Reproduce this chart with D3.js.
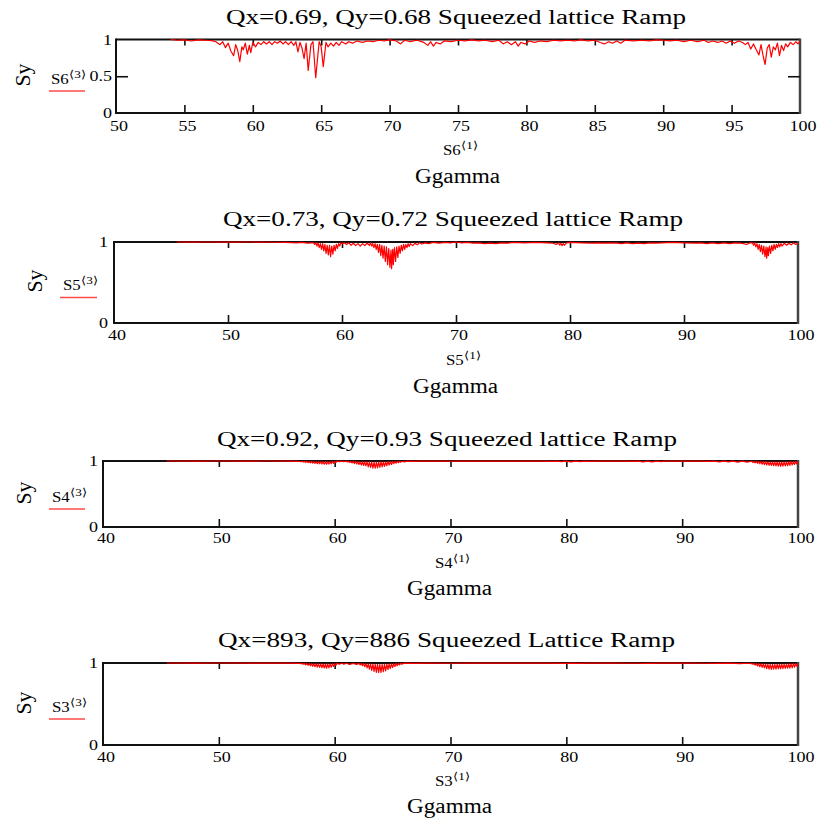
<!DOCTYPE html>
<html>
<head>
<meta charset="utf-8">
<script src="https://cdn.jsdelivr.net/npm/d3@7"></script>
<style>
  html, body { margin: 0; padding: 0; background: #fff; }
  svg { display: block; }
</style>
</head>
<body>
<div id="chart"></div>
<script>
// ---------------- DATA ----------------
const panelTitles = [
  "Qx=0.69, Qy=0.68 Squeezed lattice Ramp",
  "Qx=0.73, Qy=0.72 Squeezed lattice Ramp",
  "Qx=0.92, Qy=0.93 Squeezed lattice Ramp",
  "Qx=893, Qy=886 Squeezed Lattice Ramp"
];
const seriesNames = ["S6", "S5", "S4", "S3"];
const yAxisLabel = "Sy";
const xAxisLabel = "Ggamma";

const xTicks1 = [50, 55, 60, 65, 70, 75, 80, 85, 90, 95, 100];
const xTicks2 = [40, 50, 60, 70, 80, 90, 100];
const yTicks1 = [0, 0.5, 1];
const yTicks2 = [0, 1];
const yTickLabels1 = ["0", "0.5", "1"];
const yTickLabels2 = ["0", "1"];

// S6 : Ggamma, Sy
const s6 = [
[54,1],[54.5,.99],[55,.995],[55.5,.98],[56,.995],[56.5,.99],[57,.985],[57.3,.97],[57.6,.93],[57.8,.97],
[58,.89],[58.2,.95],[58.4,.84],[58.6,.78],[58.75,.93],[58.9,.85],[59.05,.70],[59.2,.90],[59.3,.86],[59.45,.95],
[59.6,.80],[59.75,.92],[59.85,.82],[60,.96],[60.2,.90],[60.4,.96],[60.6,.93],[60.8,.97],[61,.94],[61.2,.97],
[61.4,.93],[61.6,.97],[61.8,.95],[62,.98],[62.2,.94],[62.4,.97],[62.6,.93],[62.8,.97],[63,.92],[63.15,.97],
[63.3,.83],[63.45,.96],[63.6,.88],[63.75,.74],[63.9,.95],[64.05,.58],[64.25,.93],[64.4,.97],[64.6,.48],[64.85,.97],
[65,.90],[65.15,.63],[65.35,.96],[65.5,.90],[65.7,.95],[65.9,.91],[66.1,.96],[66.3,.92],[66.5,.97],[66.8,.94],
[67,.97],[67.3,.95],[67.6,.98],[68,.96],[68.4,.98],[68.8,.97],[69.2,.99],[69.6,.98],[70,.995],[70.5,.98],
[70.8,.94],[71.1,.99],[71.5,.97],[72,.99],[72.5,.96],[72.8,.92],[73,.97],[73.2,.91],[73.4,.96],[73.7,.94],
[74,.98],[74.5,.97],[75,.99],[75.5,.98],[76,.995],[76.5,.98],[77,.99],[77.5,.97],[78,.99],[78.3,.94],
[78.6,.97],[78.9,.93],[79.2,.97],[79.4,.91],[79.6,.96],[79.9,.94],[80.2,.98],[80.6,.96],[81,.98],[81.5,.97],
[82,.99],[82.5,.98],[83,.99],[83.5,.98],[84,.995],[84.5,.98],[85,.99],[85.4,.96],[85.7,.94],[86,.97],
[86.3,.95],[86.6,.98],[86.9,.95],[87.2,.99],[87.8,.98],[88.5,.99],[89,.98],[89.5,.995],[90,.99],[90.5,.98],
[91,.99],[91.5,.97],[92,.99],[92.5,.97],[93,.99],[93.3,.96],[93.6,.98],[94,.96],[94.3,.98],[94.6,.95],
[94.9,.98],[95.2,.95],[95.5,.98],[95.8,.96],[96,.93],[96.2,.96],[96.4,.87],[96.6,.94],[96.8,.86],[97,.79],
[97.15,.93],[97.3,.78],[97.45,.66],[97.6,.88],[97.75,.93],[97.9,.76],[98.05,.90],[98.2,.86],[98.35,.95],[98.5,.78],
[98.65,.92],[98.8,.85],[98.95,.94],[99.1,.90],[99.3,.96],[99.5,.93],[99.7,.97],[99.85,.94],[100,.98]
];

// S5 : Ggamma, Sy
const s5 = [
[45.5,1],[47,.998],[48,1],[50,.998],[52,1],[54,.997],[55,.995],[56,.99],[56.5,.995],[57,.985],[57.3,.99],
[57.5,.99],[57.6,.97],[57.7,.99],[57.8,.95],[57.9,.99],[58,.93],[58.1,.98],[58.2,.91],[58.3,.98],[58.4,.89],
[58.5,.97],[58.6,.86],[58.7,.96],[58.8,.84],[58.9,.96],[59,.82],[59.1,.95],[59.2,.85],[59.3,.96],[59.4,.89],
[59.5,.97],[59.6,.92],[59.7,.98],[59.8,.95],[59.9,.99],[60,.98],
[60.2,.99],[60.4,.97],[60.6,.99],[60.8,.96],[61,.985],[61.2,.955],[61.4,.98],[61.6,.95],[61.8,.98],[62,.955],
[62.2,.985],[62.4,.96],
[62.5,.99],[62.6,.95],[62.7,.98],[62.8,.93],[62.9,.98],[63,.91],[63.1,.97],[63.2,.87],[63.3,.97],[63.4,.83],
[63.5,.96],[63.6,.80],[63.7,.95],[63.8,.76],[63.9,.94],[64,.72],[64.1,.92],[64.2,.69],[64.3,.90],[64.35,.67],
[64.45,.91],[64.5,.72],[64.6,.93],[64.7,.76],[64.8,.94],[64.9,.81],[65,.95],[65.1,.86],[65.2,.96],[65.3,.89],
[65.4,.97],[65.5,.91],[65.6,.97],[65.7,.93],[65.8,.98],[65.9,.945],[66,.98],[66.2,.955],[66.4,.985],[66.6,.965],
[66.8,.99],[67,.975],[67.3,.99],[67.6,.98],[68,.995],[68.5,.985],[69,.995],[69.5,.99],[70,1],
[70.5,.99],[71,.995],[71.5,.985],[72,.99],[72.5,.98],[73,.985],[73.5,.98],[74,.99],[74.5,.985],[75,.995],
[76,.99],[77,.995],[78,.99],[78.5,.985],[78.8,.97],[79,.99],[79.1,.96],[79.2,.985],[79.3,.955],[79.4,.98],
[79.5,.96],[79.7,.99],[80,.995],[81,.99],[82,.985],[82.5,.99],[83,.985],[84,.99],[84.5,.98],[85,.99],
[85.5,.98],[86,.985],[86.5,.98],[87,.99],[87.5,.985],[88,.99],[89,.995],[90,.99],[91,.985],[91.5,.99],
[92,.98],[92.5,.99],[93,.98],[93.5,.99],[94,.98],[94.5,.99],[95,.985],[95.5,.97],[95.8,.99],
[96,.99],[96.1,.96],[96.2,.99],[96.3,.94],[96.4,.98],[96.5,.91],[96.6,.97],[96.7,.88],[96.8,.96],[96.9,.85],
[97,.95],[97.1,.82],[97.2,.94],[97.25,.80],[97.35,.93],[97.4,.83],[97.5,.95],[97.6,.86],[97.7,.96],[97.8,.89],
[97.9,.97],[98,.91],[98.1,.97],[98.2,.93],[98.3,.98],[98.4,.94],[98.5,.98],[98.6,.95],[98.8,.985],[99,.96],
[99.2,.985],[99.4,.965],[99.6,.99],[99.8,.97],[100,.985]
];

// S4 : Ggamma, Sy
const s4 = [
[45.5,1],[48,.999],[50,1],[52,.999],[54,1],[56,.998],[56.8,.995],
[57,.995],[57.1,.988],[57.2,.996],[57.3,.984],[57.4,.995],[57.5,.98],[57.6,.995],[57.7,.976],[57.8,.994],[57.9,.972],
[58,.993],[58.1,.968],[58.2,.992],[58.3,.964],[58.4,.992],[58.5,.96],[58.6,.991],[58.7,.957],[58.8,.99],[58.9,.954],
[59,.99],[59.1,.951],[59.2,.99],[59.3,.95],[59.4,.99],[59.5,.953],[59.6,.991],[59.7,.958],[59.8,.993],[59.9,.965],
[60,.995],[60.1,.975],[60.2,.997],[60.4,.99],[60.6,.998],[60.8,.99],
[61,.997],[61.1,.985],[61.2,.996],[61.3,.978],[61.4,.995],[61.5,.97],[61.6,.994],[61.7,.962],[61.8,.993],[61.9,.955],
[62,.992],[62.1,.948],[62.2,.99],[62.3,.94],[62.4,.989],[62.5,.932],[62.6,.988],[62.7,.925],[62.8,.987],[62.9,.912],
[63,.985],[63.1,.903],[63.2,.984],[63.3,.893],[63.4,.983],[63.5,.89],[63.6,.984],[63.7,.895],[63.8,.985],[63.9,.902],
[64,.986],[64.1,.91],[64.2,.987],[64.3,.918],[64.4,.988],[64.5,.928],[64.6,.99],[64.7,.938],[64.8,.99],[64.9,.948],
[65,.992],[65.1,.958],[65.2,.993],[65.3,.966],[65.4,.994],[65.5,.974],[65.6,.995],[65.7,.981],[65.8,.996],[66,.988],
[66.3,.998],[66.8,.995],[67.5,.999],[68.5,.997],[69.5,.999],[70,.996],[70.5,.999],[72,.998],[74,.997],[75,.999],
[76,.998],[78,.999],[78.8,.995],[79.2,.999],[79.6,.99],[80,.998],[80.4,.988],[80.8,.998],[81.2,.99],[81.6,.998],
[82,.993],[83,.999],[85,.998],[85.8,.995],[86.2,.999],[86.6,.988],[87,.998],[87.4,.987],[87.8,.998],[88.2,.99],
[88.6,.999],[90,.998],[91.5,.999],[92.4,.994],[92.8,.999],[93.2,.988],[93.6,.998],[94,.986],[94.4,.997],[94.8,.984],
[95.2,.997],[95.6,.982],[96,.996],
[96.1,.978],[96.2,.995],[96.3,.972],[96.4,.994],[96.5,.965],[96.6,.993],[96.7,.958],[96.8,.992],[96.9,.952],[97,.99],
[97.1,.946],[97.2,.989],[97.3,.94],[97.4,.988],[97.5,.936],[97.6,.987],[97.7,.932],[97.8,.986],[97.9,.928],[98,.985],
[98.1,.925],[98.2,.985],[98.3,.922],[98.4,.985],[98.5,.92],[98.6,.985],[98.7,.922],[98.8,.986],[98.9,.925],[99,.987],
[99.1,.928],[99.2,.988],[99.3,.933],[99.4,.99],[99.5,.94],[99.6,.991],[99.7,.948],[99.8,.993],[99.9,.955],[100,.99]
];

// S3 : Ggamma, Sy
const s3 = [
[45.5,1],[48,.999],[50,1],[53,.999],[56,.998],[56.8,.996],
[57,.996],[57.1,.99],[57.2,.996],[57.3,.985],[57.4,.995],[57.5,.978],[57.6,.994],[57.7,.972],[57.8,.993],[57.9,.966],
[58,.992],[58.1,.96],[58.2,.991],[58.3,.955],[58.4,.99],[58.5,.95],[58.6,.99],[58.7,.946],[58.8,.989],[58.9,.942],
[59,.988],[59.1,.939],[59.2,.988],[59.3,.936],[59.4,.988],[59.5,.94],[59.6,.989],[59.7,.948],[59.8,.99],[59.9,.958],
[60,.992],[60.1,.97],[60.2,.995],[60.4,.985],[60.6,.997],[60.8,.986],[61,.997],[61.3,.984],[61.6,.996],[61.9,.983],
[62.1,.995],[62.2,.978],[62.3,.994],[62.4,.968],[62.5,.993],[62.6,.955],[62.7,.992],[62.8,.94],[62.9,.99],[63,.925],
[63.1,.988],[63.2,.91],[63.3,.986],[63.4,.897],[63.5,.984],[63.6,.885],[63.7,.983],[63.8,.882],[63.9,.983],[64,.884],
[64.1,.984],[64.2,.893],[64.3,.985],[64.4,.905],[64.5,.986],[64.6,.918],[64.7,.988],[64.8,.932],[64.9,.99],[65,.945],
[65.1,.991],[65.2,.958],[65.3,.993],[65.4,.968],[65.5,.995],[65.6,.978],[65.7,.996],[65.8,.985],[66,.998],[67,.996],
[68,.999],[70,.997],[72,.999],[74,.998],[76,.999],[78,.998],[80,.996],[80.5,.999],[81,.995],[82,.998],
[84,.999],[86,.997],[87,.995],[88,.998],[90,.999],[92,.997],[93,.995],[94,.998],[95,.993],[95.6,.997],
[96,.992],[96.1,.985],[96.2,.994],[96.3,.975],[96.4,.993],[96.5,.965],[96.6,.992],[96.7,.955],[96.8,.99],[96.9,.947],
[97,.988],[97.1,.94],[97.2,.986],[97.3,.932],[97.4,.985],[97.5,.926],[97.6,.984],[97.7,.922],[97.8,.984],[97.9,.924],
[98,.984],[98.1,.926],[98.2,.985],[98.3,.928],[98.4,.985],[98.5,.93],[98.6,.986],[98.7,.932],[98.8,.986],[98.9,.934],
[99,.987],[99.1,.936],[99.2,.988],[99.3,.938],[99.4,.99],[99.5,.94],[99.6,.992],[99.7,.948],[99.8,.994],[99.9,.96],[100,.99]
];

// ---------------- LAYOUT ----------------
const W = 819, H = 826;
const FONT = "'Liberation Serif','Times New Roman',Times,serif";
const SX = 1.2; // horizontal stretch of the reference's text

const panels = [
  { data: s6, xDomain: [50, 100], xTicks: xTicks1, yTicks: yTicks1, yLabels: yTickLabels1,
    left: 116, right: 800, top: 39.5, bottom: 113, titleY: 24, titleCx: 456, titleW: 460,
    syCy: 75, syX: 30, legX: 51, legY: 84, legLineY: 91, legLine: [49, 85],
    subX: 443, subY: 155, gX: 415, gY: 183, xLabY: 130.7, yLabDx: -4 },
  { data: s5, xDomain: [40, 100], xTicks: xTicks2, yTicks: yTicks2, yLabels: yTickLabels2,
    left: 114, right: 798, top: 242, bottom: 323, titleY: 226, titleCx: 453, titleW: 460,
    syCy: 281, syX: 42, legX: 63, legY: 290, legLineY: 297.5, legLine: [60, 97],
    subX: 446, subY: 365, gX: 413, gY: 393, xLabY: 340, yLabDx: -6 },
  { data: s4, xDomain: [40, 100], xTicks: xTicks2, yTicks: yTicks2, yLabels: yTickLabels2,
    left: 103, right: 798, top: 461, bottom: 527, titleY: 446, titleCx: 447, titleW: 460,
    syCy: 493, syX: 31, legX: 52, legY: 501.5, legLineY: 509, legLine: [49, 85],
    subX: 435, subY: 568, gX: 407, gY: 595, xLabY: 542.7, yLabDx: -5 },
  { data: s3, xDomain: [40, 100], xTicks: xTicks2, yTicks: yTicks2, yLabels: yTickLabels2,
    left: 103, right: 798, top: 663, bottom: 745, titleY: 646.5, titleCx: 446.5, titleW: 457,
    syCy: 703, syX: 31, legX: 52, legY: 711.5, legLineY: 719, legLine: [49, 85],
    subX: 435, subY: 786, gX: 407, gY: 813, xLabY: 761.7, yLabDx: -5 }
];

const svg = d3.select("#chart").append("svg")
  .attr("width", W).attr("height", H)
  .attr("viewBox", `0 0 ${W} ${H}`)
  .style("background", "#fff");

function stretchedText(parent, x, y, str, size, anchor) {
  const g = parent.append("g").attr("transform", `translate(${x},${y}) scale(${SX},1)`);
  const t = g.append("text")
    .attr("x", 0).attr("y", 0)
    .style("font-family", FONT)
    .attr("font-size", size)
    .attr("fill", "#000")
    .attr("text-anchor", anchor || "start");
  if (str !== null) t.text(str);
  return t;
}

panels.forEach((p, i) => {
  const g = svg.append("g");
  const x = d3.scaleLinear().domain(p.xDomain).range([p.left, p.right]);
  const y = d3.scaleLinear().domain([0, 1]).range([p.bottom, p.top]);
  const innerX = p.xTicks.slice(1, -1);
  const innerY = p.yTicks.filter(v => v > 0 && v < 1);

  // frame
  g.append("line").attr("x1", p.left).attr("x2", p.right).attr("y1", p.bottom).attr("y2", p.bottom)
    .attr("stroke", "#111").attr("stroke-width", 2);
  g.append("line").attr("x1", p.left).attr("x2", p.right).attr("y1", p.top).attr("y2", p.top)
    .attr("stroke", "#111").attr("stroke-width", 2);
  g.append("line").attr("x1", p.left).attr("x2", p.left).attr("y1", p.top - 1).attr("y2", p.bottom + 1)
    .attr("stroke", "#111").attr("stroke-width", 2);
  g.append("line").attr("x1", p.right).attr("x2", p.right).attr("y1", p.top - 1).attr("y2", p.bottom + 1)
    .attr("stroke", "#444").attr("stroke-width", 2.5);

  // inner ticks via d3 axes
  const axB = g.append("g").attr("transform", `translate(0,${p.bottom})`)
    .call(d3.axisBottom(x).tickValues(innerX).tickSize(-8).tickFormat(""));
  const axT = g.append("g").attr("transform", `translate(0,${p.top})`)
    .call(d3.axisTop(x).tickValues(innerX).tickSize(-6).tickFormat(""));
  const axL = g.append("g").attr("transform", `translate(${p.left},0)`)
    .call(d3.axisLeft(y).tickValues(innerY).tickSize(-12).tickFormat(""));
  const axR = g.append("g").attr("transform", `translate(${p.right},0)`)
    .call(d3.axisRight(y).tickValues(innerY).tickSize(-12).tickFormat(""));
  [axB, axT, axL, axR].forEach(a => {
    a.select(".domain").remove();
    a.selectAll(".tick line").attr("stroke", "#111").attr("stroke-width", 1.6);
  });

  // x tick labels
  p.xTicks.forEach(v => {
    stretchedText(g, x(v) + 3, p.xLabY, String(v), 15, "middle");
  });
  // y tick labels
  p.yTicks.forEach((v, k) => {
    stretchedText(g, p.left + p.yLabDx, y(v) + 5, p.yLabels[k], 15, "end");
  });

  // data line
  const line = d3.line().x(d => x(d[0])).y(d => y(d[1]));
  g.append("path").datum(p.data)
    .attr("d", line)
    .attr("fill", "none")
    .attr("stroke", "#ff0000")
    .attr("stroke-width", 1.2)
    .attr("stroke-linejoin", "round");

  // title
  svg.append("text")
    .attr("x", p.titleCx - p.titleW / 2).attr("y", p.titleY)
    .style("font-family", FONT).attr("font-size", 20)
    .attr("textLength", p.titleW).attr("lengthAdjust", "spacingAndGlyphs")
    .text(panelTitles[i]);

  // Sy rotated label
  svg.append("text")
    .attr("transform", `translate(${p.syX},${p.syCy}) rotate(-90)`)
    .attr("text-anchor", "middle")
    .style("font-family", FONT).attr("font-size", 20)
    .attr("textLength", 23).attr("lengthAdjust", "spacingAndGlyphs")
    .text(yAxisLabel);

  // legend label  S#<3>
  const lt = stretchedText(svg, p.legX, p.legY, null, 14, "start");
  lt.append("tspan").text(seriesNames[i]);
  lt.append("tspan").attr("font-size", 11).attr("dy", -6).text("\u27E83\u27E9");
  svg.append("line").attr("x1", p.legLine[0]).attr("x2", p.legLine[1])
    .attr("y1", p.legLineY).attr("y2", p.legLineY)
    .attr("stroke", "#ff4a4a").attr("stroke-width", 1.6);

  // x sub label  S#<1>
  const st = stretchedText(svg, p.subX, p.subY, null, 14, "start");
  st.append("tspan").text(seriesNames[i]);
  st.append("tspan").attr("font-size", 11).attr("dy", -6).text("\u27E81\u27E9");

  // Ggamma
  svg.append("text")
    .attr("x", p.gX).attr("y", p.gY)
    .style("font-family", FONT).attr("font-size", 20)
    .attr("textLength", 85).attr("lengthAdjust", "spacingAndGlyphs")
    .text(xAxisLabel);
});
</script>
</body>
</html>
